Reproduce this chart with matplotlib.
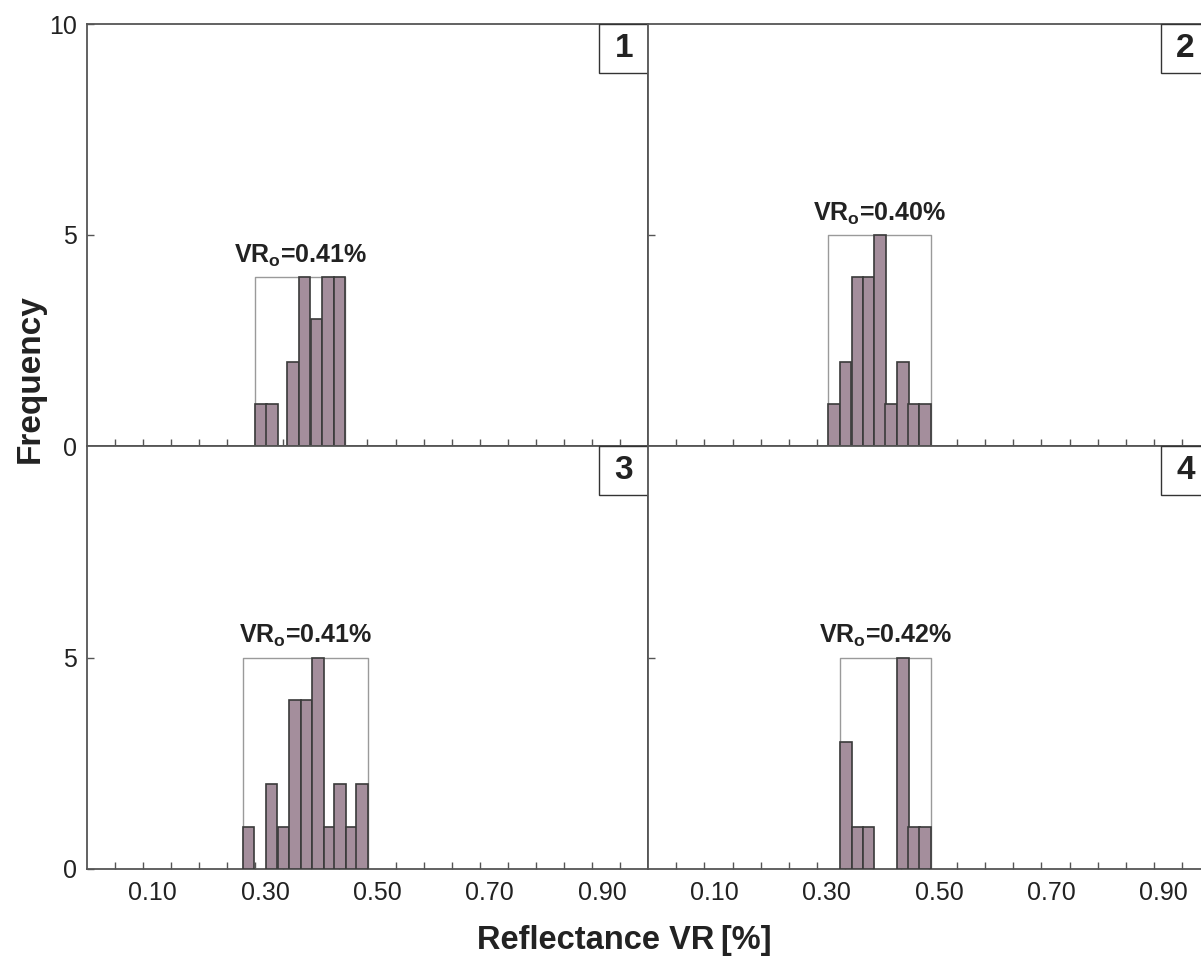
import matplotlib
matplotlib.use('Agg')
import matplotlib.pyplot as plt
from matplotlib.patches import Rectangle

plt.rcParams['font.family'] = ['Liberation Sans', 'DejaVu Sans']
plt.rcParams['mathtext.fontset'] = 'custom'
plt.rcParams['mathtext.rm'] = 'Liberation Sans:bold'
plt.rcParams['mathtext.it'] = 'Liberation Sans:bold'
plt.rcParams['mathtext.bf'] = 'Liberation Sans:bold'

# --- data ---
panel_ids = ['1', '2', '3', '4']
vr_means = ['0.41', '0.40', '0.41', '0.42']
bar_width = 0.0205

left1 = [0.300, 0.320, 0.357, 0.378, 0.399, 0.419, 0.440]
count1 = [1, 1, 2, 4, 3, 4, 4]

left2 = [0.320, 0.341, 0.362, 0.382, 0.402, 0.422, 0.443, 0.462, 0.482]
count2 = [1, 2, 4, 4, 5, 1, 2, 1, 1]

left3 = [0.278, 0.319, 0.340, 0.361, 0.381, 0.402, 0.422, 0.441, 0.461, 0.480]
count3 = [1, 2, 1, 4, 4, 5, 1, 2, 1, 2]

left4 = [0.342, 0.362, 0.382, 0.443, 0.463, 0.482]
count4 = [3, 1, 1, 5, 1, 1]

x_labels = ['0.10', '0.30', '0.50', '0.70', '0.90']
x_label_vals = [0.10, 0.30, 0.50, 0.70, 0.90]
minor_ticks = [round(0.05 * k, 2) for k in range(1, 20)]

lefts = [left1, left2, left3, left4]
counts = [count1, count2, count3, count4]

bar_color = '#a48e9c'
edge_color = '#3a3a3a'
spine_color = '#555555'
text_color = '#222222'

fig = plt.figure(figsize=(12.01, 9.58), dpi=100)
W, H = 1201.0, 958.0

# axes boxes in pixels: x0, x1, ytop, ybottom
boxes = [(86.7, 648.3, 24, 446), (648.3, 1210.0, 24, 446),
         (86.7, 648.3, 446, 869), (648.3, 1210.0, 446, 869)]

axs = []
for (x0, x1, yt, yb) in boxes:
    ax = fig.add_axes([x0 / W, (H - yb) / H, (x1 - x0) / W, (yb - yt) / H])
    axs.append(ax)

for i, ax in enumerate(axs):
    ax.set_xlim(0, 1.0)
    ax.set_ylim(0, 10)
    for s in ax.spines.values():
        s.set_color(spine_color)
        s.set_linewidth(1.3)

    l = lefts[i]
    c = counts[i]
    ax.bar(l, c, width=bar_width, align='edge', color=bar_color,
           edgecolor=edge_color, linewidth=1.2, zorder=3)

    # bracket around the distribution
    lo = l[0]
    hi = l[-1] + bar_width
    top = max(c)
    ax.plot([lo, lo, hi, hi], [0, top, top, 0], color='#9a9a9a', lw=1.0, zorder=2)
    ax.text((lo + hi) / 2, top + 0.2, 'VR$_\\mathrm{o}$=' + vr_means[i] + '%',
            ha='center', va='bottom', fontsize=18, fontweight='bold',
            color=text_color, zorder=4)

    # panel number box
    bw = 49.0 / ((boxes[i][1] - boxes[i][0]))
    bh = 49.0 / ((boxes[i][3] - boxes[i][2]))
    ax.add_patch(Rectangle((1 - bw, 1 - bh), bw, bh, transform=ax.transAxes,
                           facecolor='white', edgecolor='#333333', lw=1.0,
                           zorder=5, clip_on=False))
    ax.text(1 - bw / 2, 1 - bh / 2, panel_ids[i], transform=ax.transAxes,
            ha='center', va='center', fontsize=24, fontweight='bold',
            color=text_color, zorder=6)

    # x ticks: inward minor ticks every 0.05, labels slightly offset
    ax.set_xticks(minor_ticks, minor=True)
    ax.tick_params(axis='x', which='minor', direction='in', length=5,
                   width=1.0, color=spine_color, bottom=True, top=False)
    if i >= 2:
        ax.set_xticks([v + 0.0175 for v in x_label_vals])
        ax.set_xticklabels(x_labels)
        ax.tick_params(axis='x', which='major', length=0, pad=9,
                       labelsize=18, labelcolor=text_color)
    else:
        ax.set_xticks([])

    # y ticks
    if i == 0:
        ax.set_yticks([0, 5, 10])
    elif i == 2:
        ax.set_yticks([0, 5])
    else:
        ax.set_yticks([5])
    ax.tick_params(axis='y', direction='in', length=5, width=1.0,
                   color=spine_color, pad=7, labelsize=18, labelcolor=text_color)
    if i in (1, 3):
        ax.set_yticklabels([])

fig.text(30 / W, 1 - 379 / H, 'Frequency', rotation=90, ha='center', va='center',
         fontsize=24, fontweight='bold', color=text_color)
fig.text(624 / W, 1 - 940 / H, 'Reflectance VR\u2009[%]', ha='center', va='center',
         fontsize=23.5, fontweight='bold', color=text_color)

fig.savefig('out.png', dpi=100)
